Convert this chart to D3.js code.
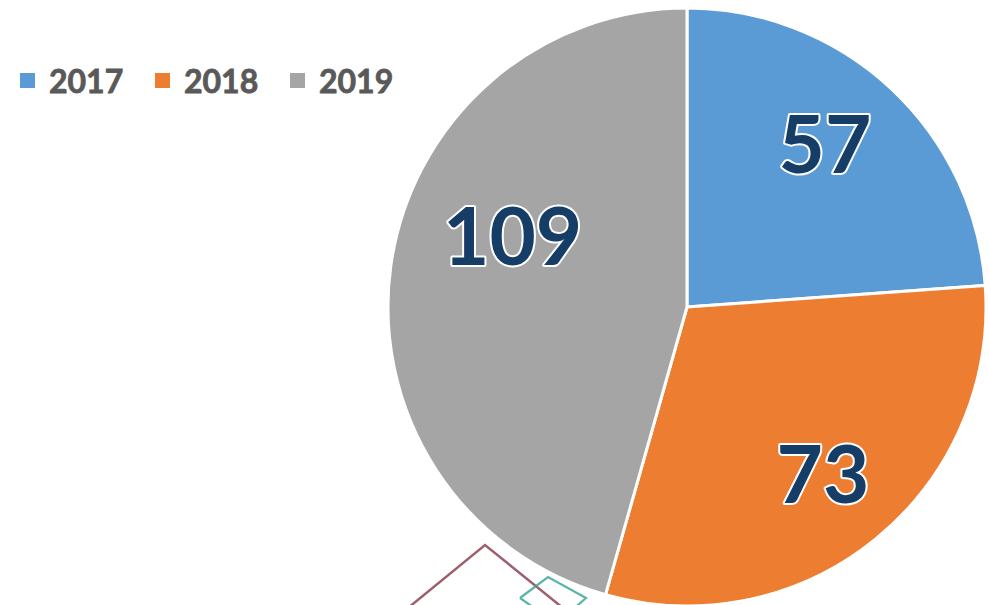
<!DOCTYPE html>
<html>
<head>
<meta charset="utf-8">
<script src="https://cdn.jsdelivr.net/npm/d3@7"></script>
<style>
  body { margin: 0; background: #fff; }
  svg { display: block; }
</style>
</head>
<body>
<svg id="chart" width="989" height="605"></svg>
<script>
// chart data
const years = ["2017", "2018", "2019"];
const counts = [57, 73, 109];
const sliceColors = ["#5b9bd5", "#ed7d31", "#a5a5a5"];

const width = 989, height = 605;
const svg = d3.select("#chart");

const cx = 687, cy = 307, radius = 299;

var pie = d3.pie().sort(null).value(d => d.value);
var arc = d3.arc().innerRadius(0).outerRadius(radius);

var data = years.map((y, i) => ({ year: y, value: counts[i], color: sliceColors[i] }));
var arcs = pie(data);

// faint scan marks at the bottom of the original picture
var marks = svg.append("g").attr("class", "scan-marks").style("fill", "none");
marks.append("path")
    .attr("d", "M408,608 L485,545 L563,608")
    .style("stroke", "#8c4455").style("stroke-width", 2.5).style("opacity", 0.85);
marks.append("path")
    .attr("d", "M520,598 L548,577 L586,598 L570,612 M520,598 L540,612")
    .style("stroke", "#3aa89a").style("stroke-width", 2.2).style("opacity", 0.85);

var g = svg.append("g").attr("transform", "translate(" + cx + "," + cy + ")");

g.selectAll("path.slice")
    .data(arcs)
    .enter().append("path")
    .attr("class", "slice")
    .attr("d", arc)
    .style("fill", d => d.data.color)
    .style("stroke", "#fff")
    .style("stroke-width", 3);

// Excel's best-fit labels are not quite on the slice centroids
var labelTurn = [-0.047, 0, 0.25];
var labelDist = [0.714, 0.72, 0.63];

g.selectAll("text.value")
    .data(arcs)
    .enter().append("text")
    .attr("class", "value")
    .attr("transform", (d, i) => {
        var a = (d.startAngle + d.endAngle) / 2 + labelTurn[i];
        var r = radius * labelDist[i];
        return "translate(" + (Math.sin(a) * r) + "," + (-Math.cos(a) * r) + ")";
    })
    .attr("dy", "0.36em")
    .style("text-anchor", "middle")
    .style("font-family", "Lato, 'Open Sans', sans-serif")
    .style("font-weight", "bold")
    .style("font-size", "80px")
    .style("fill", "#163d66")
    .style("stroke", "#fff")
    .style("stroke-width", 4)
    .style("paint-order", "stroke")
    .style("stroke-linejoin", "round")
    .text(d => d.data.value);

// legend
var legend = svg.append("g").attr("class", "legend")
    .selectAll("g")
    .data(data)
    .enter().append("g")
    .attr("transform", (d, i) => "translate(" + (20 + i * 135) + ",73)");

legend.append("rect")
    .attr("width", 15)
    .attr("height", 15)
    .style("fill", d => d.color);

legend.append("text")
    .attr("x", 29)
    .attr("y", 8)
    .attr("dy", "0.36em")
    .style("font-family", "Lato, 'Open Sans', sans-serif")
    .style("font-weight", "bold")
    .style("font-size", "32px")
    .style("fill", "#595959")
    .style("stroke", "#595959")
    .style("stroke-width", 0.8)
    .text(d => d.year);
</script>
</body>
</html>
